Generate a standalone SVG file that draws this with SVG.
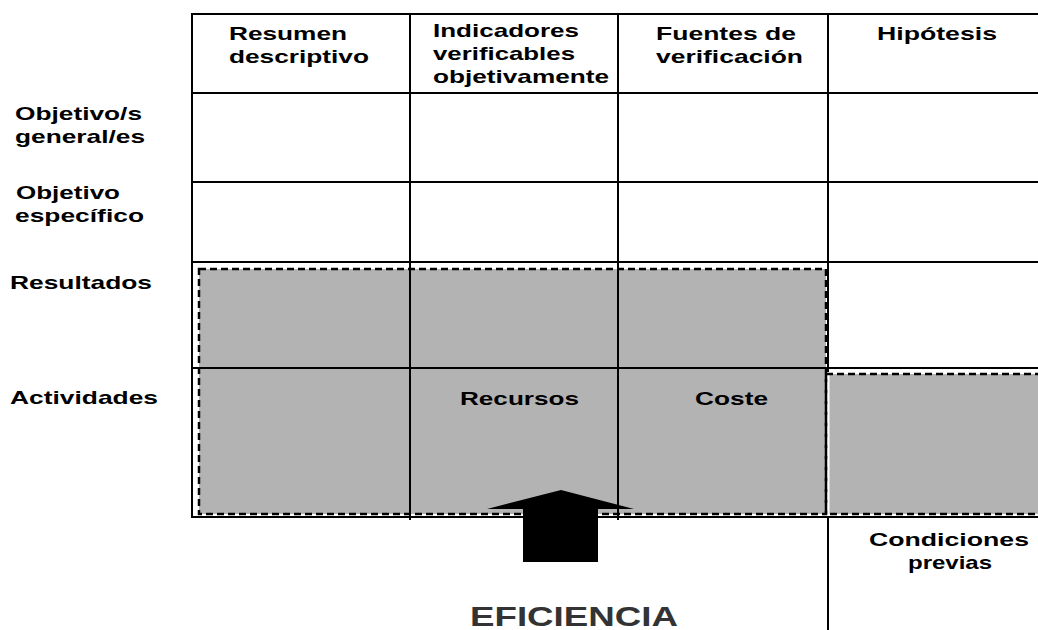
<svg xmlns="http://www.w3.org/2000/svg" width="1038" height="630" viewBox="0 0 1038 630">
<style>
.t{font-family:"Liberation Sans",Arial,Helvetica,sans-serif;font-weight:bold;font-size:19px;fill:#000}
.big{font-family:"Liberation Sans",Arial,Helvetica,sans-serif;font-weight:bold;font-size:28px;fill:#333333}
.g{stroke:#000;stroke-width:2;fill:none}
.shade{fill:#b3b3b3;stroke:none}
.wh{fill:none;stroke:#fff;stroke-width:3}
.dash{fill:none;stroke:#000;stroke-width:2.5;stroke-dasharray:7 4}
</style>
<rect width="1038" height="630" fill="#fff"/>
<g id="shaded">
<rect class="shade" x="199" y="269" width="627" height="245"/>
<rect class="shade" x="826" y="374" width="216" height="140"/>
<rect class="wh" x="197" y="267" width="631" height="249"/>
<rect class="dash" x="199" y="269" width="627" height="245"/>
<rect class="dash" x="826" y="374" width="216" height="140"/>
</g>
<g id="grid">
<path class="g" d="M192 14H1038M192 93H1038M192 182H1038M192 262H1038M192 368H1038M192 517H1038M192 13V518M410 14V520M618 14V520M828 14V372M828 516V630"/>
</g>
<g id="header-resumen"><text class="t" x="229" y="40" textLength="118" lengthAdjust="spacingAndGlyphs">Resumen</text><text class="t" x="229" y="63" textLength="140" lengthAdjust="spacingAndGlyphs">descriptivo</text></g>
<g id="header-indicadores"><text class="t" x="433" y="37" textLength="146" lengthAdjust="spacingAndGlyphs">Indicadores</text><text class="t" x="433" y="60" textLength="142" lengthAdjust="spacingAndGlyphs">verificables</text><text class="t" x="433" y="83" textLength="176" lengthAdjust="spacingAndGlyphs">objetivamente</text></g>
<g id="header-fuentes"><text class="t" x="656" y="40" textLength="140" lengthAdjust="spacingAndGlyphs">Fuentes de</text><text class="t" x="656" y="63" textLength="147" lengthAdjust="spacingAndGlyphs">verificación</text></g>
<g id="header-hipotesis"><text class="t" x="877" y="40" textLength="120" lengthAdjust="spacingAndGlyphs">Hipótesis</text></g>
<g id="row-general"><text class="t" x="15" y="120" textLength="127" lengthAdjust="spacingAndGlyphs">Objetivo/s</text><text class="t" x="15" y="143" textLength="130" lengthAdjust="spacingAndGlyphs">general/es</text></g>
<g id="row-especifico"><text class="t" x="16" y="199" textLength="104" lengthAdjust="spacingAndGlyphs">Objetivo</text><text class="t" x="15" y="222" textLength="129" lengthAdjust="spacingAndGlyphs">específico</text></g>
<g id="row-resultados"><text class="t" x="10" y="289" textLength="142" lengthAdjust="spacingAndGlyphs">Resultados</text></g>
<g id="row-actividades"><text class="t" x="10" y="404" textLength="148" lengthAdjust="spacingAndGlyphs">Actividades</text></g>
<g id="cell-recursos"><text class="t" x="460" y="405" textLength="119" lengthAdjust="spacingAndGlyphs">Recursos</text></g>
<g id="cell-coste"><text class="t" x="695" y="405" textLength="73" lengthAdjust="spacingAndGlyphs">Coste</text></g>
<g id="condiciones"><text class="t" x="869" y="546" textLength="160" lengthAdjust="spacingAndGlyphs">Condiciones</text><text class="t" x="908" y="569" textLength="84" lengthAdjust="spacingAndGlyphs">previas</text></g>
<g id="connectors">
<polygon points="487,509 561,490 634,509 598,509 598,562 523,562 523,509" fill="#000"/>
</g>
<g id="eficiencia"><text class="big" x="470" y="626" textLength="208" lengthAdjust="spacingAndGlyphs">EFICIENCIA</text></g>
</svg>
